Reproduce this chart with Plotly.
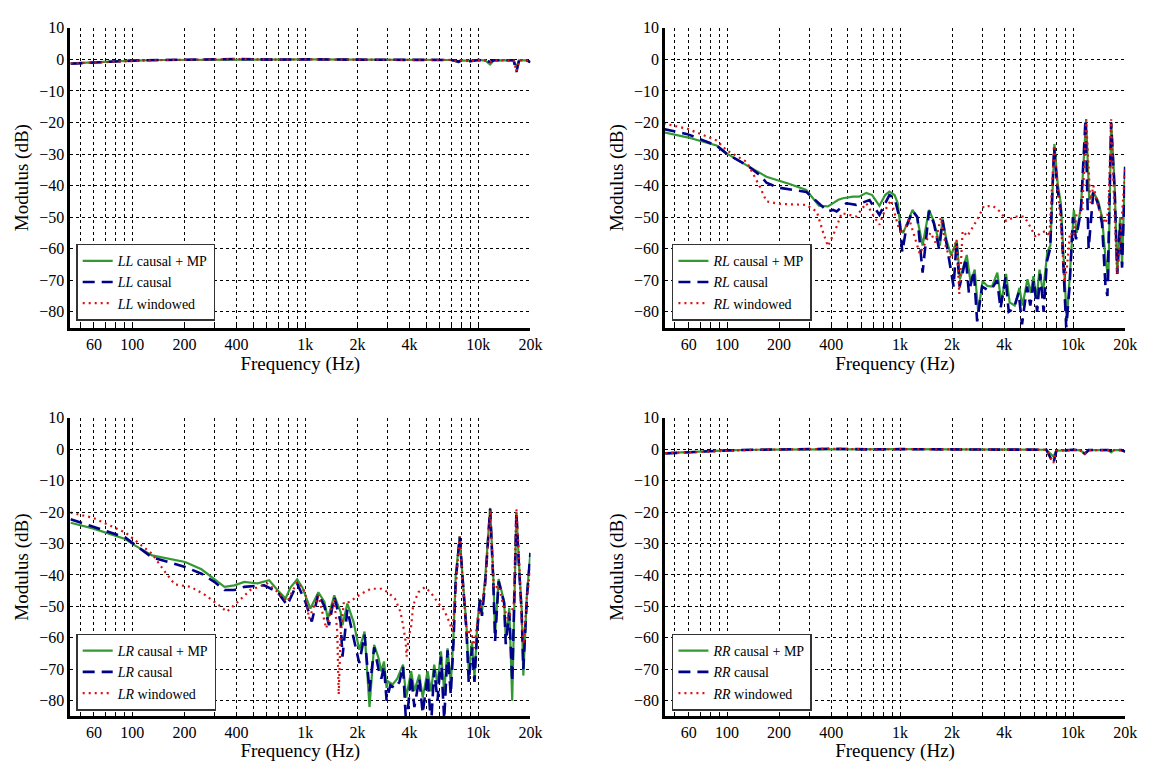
import math
import plotly.graph_objects as go

# === DADOS ===
# LL
f_ll = [44, 60, 80, 100, 150, 250, 400, 700, 1000, 2000, 4000, 7000, 7700, 8000,
        9000, 10000, 11000, 11700, 12300, 14000, 16000, 16600, 17200, 19000, 20000]
ll_mp = [-1.3, -0.9, -0.6, -0.4, -0.2, -0.1, 0.0, -0.1, 0.0, -0.1, -0.1, -0.2, -0.9, -0.3,
         -0.5, -0.2, -0.4, -1.6, -0.3, -0.2, -0.3, -2.5, -0.3, -0.3, -0.9]
ll_causal = [-1.4, -1.0, -0.6, -0.4, -0.2, -0.1, 0.1, -0.1, 0.0, -0.1, -0.1, -0.2, -0.7, -0.3,
             -0.6, -0.2, -0.4, -0.8, -0.3, -0.2, -0.3, -4.0, -0.3, -0.3, -0.9]
ll_win = [-1.3, -1.0, -0.6, -0.4, -0.2, -0.1, 0.1, -0.1, 0.0, -0.1, -0.1, -0.2, -0.7, -0.3,
          -0.6, -0.2, -0.4, -0.8, -0.3, -0.2, -0.3, -3.8, -0.3, -0.3, -0.9]

# RR
f_rr = f_ll
rr_mp = [-1.3, -0.9, -0.6, -0.4, -0.2, -0.1, 0.0, -0.1, 0.0, -0.1, -0.1, -0.2, -2.4, -0.5,
         -0.4, -0.2, -0.4, -1.4, -0.3, -0.2, -0.3, -1.0, -0.3, -0.3, -0.8]
rr_causal = [-1.4, -1.0, -0.6, -0.4, -0.2, -0.1, 0.1, -0.1, 0.0, -0.1, -0.1, -0.2, -4.6, -0.6,
             -0.4, -0.2, -0.4, -1.5, -0.3, -0.2, -0.3, -0.5, -0.3, -0.3, -0.8]
rr_win = [-1.3, -1.0, -0.6, -0.4, -0.2, -0.1, 0.1, -0.1, 0.0, -0.1, -0.1, -0.2, -4.4, -0.6,
          -0.4, -0.2, -0.4, -1.5, -0.3, -0.2, -0.3, -0.5, -0.3, -0.3, -0.8]

# RL causal + MP
f_rl_mp = [43, 59, 87, 100, 130, 169, 230, 287, 340, 383, 440, 468, 534, 580, 638, 690, 760,
           820, 868, 930, 970, 1010, 1040, 1080, 1180, 1250, 1350, 1470, 1560, 1700, 1760,
           1850, 1970, 2130, 2220, 2430, 2560, 2700, 2830, 3000, 3200, 3400, 3650, 3850,
           4100, 4300, 4600, 4900, 5100, 5450, 5700, 5900, 6150, 6400, 6700, 7100, 7400,
           7800, 8150, 8500, 8750, 9200, 9600, 10100, 10500, 11100, 11900, 12400, 13100,
           14000, 14700, 15400, 16000, 16600, 17400, 18000, 18700, 19200, 20000]
rl_mp = [-23.1, -24.7, -27.3, -29.9, -33.6, -37.2, -39.5, -41.4, -46.4, -46.6, -44.5, -44.0,
         -43.5, -43.5, -42.3, -43.0, -46.4, -43.0, -41.9, -43.0, -45.6, -54.0, -55.0, -53.0,
         -47.7, -49.8, -59.0, -47.7, -51.0, -59.0, -50.4, -57.0, -62.0, -57.7, -69.7, -62.0,
         -70.8, -66.6, -80.0, -70.3, -71.8, -72.0, -67.6, -77.0, -68.0, -77.0, -78.0, -72.4,
         -78.0, -69.7, -74.0, -68.7, -76.0, -66.6, -74.0, -61.0, -59.0, -26.8, -39.4, -45.7,
         -59.0, -83.0, -67.6, -47.7, -55.0, -46.7, -19.0, -44.6, -42.0, -45.0, -50.0, -63.0,
         -70.0, -20.0, -40.0, -68.0, -50.0, -65.0, -34.0]

# RL causal
f_rl_c = [43, 59, 87, 100, 130, 155, 169, 196, 287, 340, 383, 410, 430, 490, 558, 666, 760,
          868, 930, 989, 1030, 1090, 1180, 1260, 1350, 1470, 1570, 1680, 1760, 1850, 1960,
          2040, 2120, 2210, 2400, 2500, 2670, 2790, 2980, 3190, 3410, 3640, 3810, 4070, 4250,
          4540, 4850, 5070, 5420, 5660, 5930, 6200, 6460, 6760, 7060, 7370, 7770, 8120, 8500,
          8760, 9130, 9550, 9980, 10400, 11100, 11800, 12300, 13100, 14000, 14700, 15400,
          15800, 16600, 17400, 18000, 18700, 19200, 20000]
rl_c = [-22.1, -23.7, -27.3, -30.0, -33.5, -36.7, -39.1, -40.6, -42.0, -45.6, -48.2, -47.7,
        -48.2, -45.6, -46.1, -44.6, -49.3, -43.0, -44.0, -49.8, -61.0, -53.0, -48.0, -50.0,
        -67.6, -48.0, -52.0, -60.0, -51.0, -58.0, -66.0, -72.0, -58.0, -72.0, -63.0, -74.0,
        -67.0, -83.0, -72.0, -73.0, -72.5, -70.0, -79.0, -69.0, -80.0, -79.0, -74.0, -84.0,
        -72.0, -78.0, -70.0, -80.0, -68.0, -80.0, -64.0, -60.0, -28.0, -41.0, -48.0, -62.0,
        -85.0, -72.0, -50.0, -57.0, -48.0, -19.0, -60.0, -42.0, -46.0, -52.0, -72.0, -75.0,
        -20.0, -42.0, -68.0, -52.0, -66.0, -34.0]

# RL windowed
f_rl_w = [43, 59, 87, 100, 130, 140, 155, 169, 200, 287, 330, 360, 383, 420, 460, 558, 638,
          707, 760, 812, 886, 989, 1030, 1130, 1300, 1500, 1600, 1720, 1850, 1970, 2120, 2200,
          2300, 2450, 2800, 3050, 3450, 3850, 4100, 4650, 5200, 5500, 5850, 6100, 6500, 7000,
          7300, 7770, 8200, 8600, 8900, 9200, 9600, 10100, 10500, 11300, 11900, 12600, 13100,
          14000, 14700, 15400, 16000, 16600, 17400, 18000, 18700, 19200, 20000]
rl_win = [-20.3, -22.0, -25.7, -28.9, -32.5, -35.7, -40.4, -45.0, -45.8, -46.1, -48.2, -55.0,
          -59.2, -54.5, -48.7, -49.8, -45.6, -49.8, -52.4, -48.2, -44.6, -54.0, -55.3, -50.6,
          -61.6, -54.9, -58.0, -50.2, -60.1, -63.2, -57.0, -74.3, -54.4, -56.0, -50.7, -46.5,
          -46.5, -48.6, -51.2, -49.8, -49.8, -51.8, -54.4, -56.5, -54.9, -54.4, -56.0, -27.3,
          -42.3, -56.0, -70.6, -66.4, -54.9, -56.0, -48.6, -48.6, -19.0, -45.5, -40.0, -47.0,
          -50.0, -52.0, -48.0, -19.0, -50.0, -68.0, -58.0, -48.0, -35.0]

# LR causal + MP
f_lr_mp = [44, 59, 91, 104, 130, 162, 202, 251, 286, 341, 389, 444, 530, 618, 690, 769, 820,
           897, 960, 1070, 1190, 1290, 1350, 1470, 1600, 1640, 1750, 1900, 2050, 2200, 2350,
           2500, 2650, 2750, 2850, 2950, 3000, 3200, 3400, 3670, 3830, 4090, 4270, 4560, 4770,
           5090, 5330, 5560, 5810, 6080, 6350, 6640, 6930, 7180, 7400, 7800, 8180, 8540, 8800,
           9200, 9500, 9850, 10200, 10500, 10980, 11700, 12200, 12500, 13100, 14100, 14400,
           15100, 15700, 16600, 17200, 17800, 18200, 19100, 20000]
lr_mp = [-23.4, -25.2, -28.6, -30.7, -33.8, -34.9, -35.9, -38.2, -40.6, -43.8, -43.3, -42.2,
         -42.7, -41.7, -44.8, -47.5, -44.0, -41.4, -43.9, -50.7, -45.5, -48.6, -53.9, -46.5,
         -51.8, -56.0, -49.1, -54.9, -63.8, -58.0, -82.0, -62.2, -66.4, -70.6, -67.5, -75.9,
         -73.8, -74.8, -73.0, -68.5, -79.0, -70.6, -76.9, -71.7, -79.0, -70.6, -77.0, -68.5,
         -74.8, -64.3, -77.0, -63.3, -74.8, -60.0, -40.2, -27.7, -43.4, -56.0, -70.6, -61.2,
         -72.7, -56.0, -47.6, -51.8, -40.2, -18.7, -40.0, -59.0, -41.3, -48.5, -60.0, -50.5,
         -80.0, -20.0, -37.0, -51.0, -72.0, -46.0, -33.0]

# LR causal
f_lr_c = [44, 59, 91, 104, 130, 162, 202, 251, 298, 341, 389, 444, 578, 690, 786, 897, 1000,
          1090, 1190, 1290, 1370, 1470, 1600, 1640, 1750, 1900, 2050, 2200, 2350, 2500, 2650,
          2750, 2850, 2950, 3100, 3300, 3500, 3670, 3830, 4090, 4270, 4560, 4770, 5090, 5330,
          5560, 5810, 6080, 6350, 6640, 6930, 7180, 7400, 7800, 8180, 8540, 8800, 9200, 9500,
          9850, 10200, 10500, 10980, 11700, 12200, 12500, 13100, 14100, 14400, 15100, 15700,
          16600, 17200, 17800, 18200, 19100, 20000]
lr_c = [-22.3, -24.6, -28.1, -30.5, -34.4, -35.9, -37.5, -39.6, -42.2, -44.8, -44.8, -43.8,
        -43.3, -45.4, -49.6, -42.7, -48.5, -54.8, -46.0, -50.0, -56.0, -47.0, -55.0, -66.0,
        -51.0, -60.0, -68.0, -59.0, -77.0, -63.0, -70.0, -73.0, -69.0, -80.0, -75.0, -76.0,
        -74.0, -69.0, -88.0, -72.0, -82.0, -73.0, -84.0, -72.0, -88.0, -70.0, -80.0, -66.0,
        -86.0, -64.0, -78.0, -62.0, -42.0, -28.0, -44.0, -58.0, -74.0, -63.0, -74.0, -58.0,
        -48.0, -53.0, -42.0, -19.0, -42.0, -61.0, -42.0, -49.0, -62.0, -52.0, -74.0, -20.0,
        -38.0, -52.0, -70.0, -47.0, -33.0]

# LR windowed
f_lr_w = [44, 59, 91, 104, 130, 155, 176, 218, 264, 316, 352, 408, 481, 601, 690, 786, 897,
          1000, 1050, 1190, 1320, 1470, 1530, 1560, 1600, 1670, 1800, 2100, 2400, 2750, 3000,
          3300, 3550, 3700, 3800, 3850, 3950, 4100, 4200, 4500, 4900, 5300, 5800, 6350, 6800,
          7100, 7400, 7800, 8200, 8600, 9000, 9500, 9900, 10400, 11000, 11700, 12300, 13100,
          14000, 14800, 15400, 16000, 16600, 17200, 17800, 18300, 19000, 20000]
lr_win = [-20.2, -21.8, -26.5, -29.1, -33.3, -39.1, -43.0, -43.8, -46.4, -49.6, -51.7, -48.5,
          -44.8, -42.7, -45.4, -48.5, -42.2, -45.5, -53.9, -46.5, -57.0, -47.6, -58.0, -78.0,
          -59.0, -48.6, -48.6, -46.0, -44.4, -44.4, -45.5, -47.6, -51.8, -57.0, -61.2, -66.0,
          -60.0, -56.0, -49.7, -45.5, -43.9, -45.5, -48.6, -51.2, -55.0, -58.0, -45.5, -27.7,
          -45.5, -60.0, -57.0, -63.3, -54.0, -49.7, -42.3, -19.3, -44.4, -43.4, -50.0, -54.0,
          -52.0, -50.0, -19.0, -35.0, -55.0, -62.0, -48.0, -38.0]

# eixos
tick_vals = [60, 100, 200, 400, 1000, 2000, 4000, 10000, 20000]
tick_text = ["60", "100", "200", "400", "1k", "2k", "4k", "10k", "20k"]
grid_vals = [50, 60, 70, 80, 90, 100, 200, 300, 400, 500, 600, 700, 800, 900,
             1000, 2000, 3000, 4000, 5000, 6000, 7000, 8000, 9000, 10000, 20000]
y_ticks = [10, 0, -10, -20, -30, -40, -50, -60, -70, -80]

# === ESTILO ===
FONT = "Liberation Serif"
VERDE = "#339933"
AZUL = "#00008b"
VERMELHO = "#dd1111"

paineis = [
    ("LL", f_ll, ll_mp, f_ll, ll_causal, f_ll, ll_win),
    ("RL", f_rl_mp, rl_mp, f_rl_c, rl_c, f_rl_w, rl_win),
    ("LR", f_lr_mp, lr_mp, f_lr_c, lr_c, f_lr_w, lr_win),
    ("RR", f_rr, rr_mp, f_rr, rr_causal, f_rr, rr_win),
]

W, H = 1151, 762
dom_x = [(71 / W, 536 / W), (672 / W, 1137 / W)]
dom_y = [(1 - 323 / H, 1 - 20 / H), (1 - 716 / H, 1 - 414 / H)]
# legenda ancorada pela base, um pouco acima do eixo x
leg_pos = [(77 / W, 1 - 316 / H), (679 / W, 1 - 316 / H), (77 / W, 1 - 710 / H), (679 / W, 1 - 710 / H)]

fig = go.Figure()
layout = dict(
    width=W, height=H,
    margin=dict(l=0, r=0, t=0, b=0),
    paper_bgcolor="white", plot_bgcolor="white",
    font=dict(family=FONT, size=16, color="black"),
    showlegend=True,
)

for i, (nome, fa, ya, fb, yb, fc, yc) in enumerate(paineis):
    linha, col = divmod(i, 2)
    sfx = "" if i == 0 else str(i + 1)
    xa, ya_name, leg = "x" + sfx, "y" + sfx, "legend" + sfx

    fig.add_trace(go.Scatter(x=fa, y=ya, mode="lines", name=f"<i>{nome}</i> causal + MP",
                             line=dict(color=VERDE, width=2.2), xaxis=xa, yaxis=ya_name, legend=leg))
    fig.add_trace(go.Scatter(x=fb, y=yb, mode="lines", name=f"<i>{nome}</i> causal",
                             line=dict(color=AZUL, width=2.6, dash="12px,7px"),
                             xaxis=xa, yaxis=ya_name, legend=leg))
    fig.add_trace(go.Scatter(x=fc, y=yc, mode="lines", name=f"<i>{nome}</i> windowed",
                             line=dict(color=VERMELHO, width=2.2, dash="2px,4px"),
                             xaxis=xa, yaxis=ya_name, legend=leg))

    layout["xaxis" + sfx] = dict(
        type="log", domain=dom_x[col], anchor=ya_name,
        range=[math.log10(43.8), math.log10(20000)],
        tickvals=tick_vals, ticktext=tick_text,
        showgrid=True, gridcolor="black", griddash="dot", gridwidth=1,
        minor=dict(tickvals=grid_vals, showgrid=True, gridcolor="black", griddash="dot",
                   gridwidth=1, ticks="inside", ticklen=3, tickcolor="black"),
        ticks="inside", ticklen=3, tickcolor="black",
        showline=True, linecolor="black", linewidth=2.5,
        tickfont=dict(size=16), title=dict(text="Frequency (Hz)", font=dict(size=19), standoff=4),
        zeroline=False,
    )
    layout["yaxis" + sfx] = dict(
        domain=dom_y[linha], anchor=xa, range=[-85, 10],
        tickvals=y_ticks,
        showgrid=True, gridcolor="black", griddash="dot", gridwidth=1,
        ticks="inside", ticklen=3, tickcolor="black",
        showline=True, linecolor="black", linewidth=2.5,
        tickfont=dict(size=16), title=dict(text="Modulus (dB)", font=dict(size=19), standoff=6),
        zeroline=False,
    )
    lx, ly = leg_pos[i]
    layout["legend" + ("" if i == 0 else str(i + 1))] = dict(
        x=lx, y=ly, xanchor="left", yanchor="bottom",
        bgcolor="white", bordercolor="#333333", borderwidth=1.5,
        font=dict(size=14, family=FONT), tracegroupgap=0,
    )

fig.update_layout(**layout)
# sem margem nem barras de rolagem na página
fig.write_html(
    "out.html",
    config={"displayModeBar": False},
    post_script="document.body.style.margin='0px';document.body.style.overflow='hidden';"
                "document.documentElement.style.overflow='hidden';",
)
